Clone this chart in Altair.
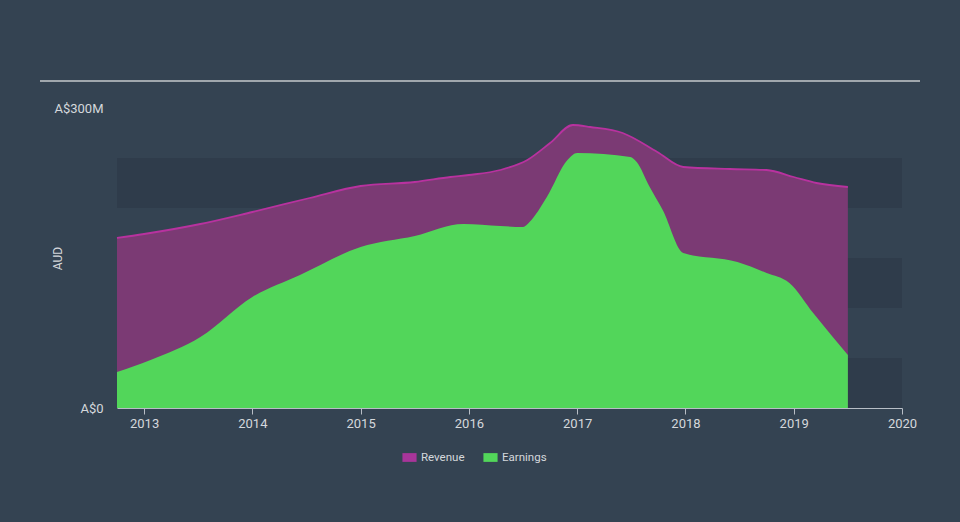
import altair as alt
import pandas as pd

rev_years = [2012.75, 2013.0, 2013.52, 2014.0, 2014.53, 2015.0, 2015.5, 2015.83, 2016.0, 2016.29,
             2016.54, 2016.75, 2016.96, 2017.12, 2017.42, 2017.74, 2017.98, 2018.41, 2018.75,
             2019.0, 2019.21, 2019.5]
rev_values = [170, 174, 184, 196, 210, 222, 226, 231, 233, 238,
              248, 265, 283, 281, 275, 256, 241, 239, 238,
              231, 225, 221]

earn_years = [2012.75, 2013.06, 2013.52, 2014.0, 2014.44, 2015.0, 2015.5, 2015.95, 2016.29, 2016.5,
              2016.56, 2016.72, 2016.91, 2017.0, 2017.49, 2017.55, 2017.67, 2017.79, 2017.98,
              2018.48, 2018.75, 2018.96, 2019.18, 2019.5]
earn_values = [36, 48, 71, 111, 133, 161, 172, 184, 182, 181,
               186, 211, 248, 255, 251, 246, 221, 198, 155,
               146, 135, 125, 95, 53]

band_lo = [0, 100, 200]
band_hi = [50, 150, 250]

year_ticks = [2013, 2014, 2015, 2016, 2017, 2018, 2019, 2020]

W, H = 785, 300

df = pd.concat([
    pd.DataFrame({"year": rev_years, "value": rev_values, "series": "Revenue"}),
    pd.DataFrame({"year": earn_years, "value": earn_values, "series": "Earnings"}),
])
bands = pd.DataFrame({"lo": band_lo, "hi": band_hi})

xscale = alt.Scale(domain=[2012.75, 2020], nice=False, zero=False)
yscale = alt.Scale(domain=[0, 300], nice=False)
cscale = alt.Scale(domain=["Revenue", "Earnings"], range=["#a8359a", "#52d65a"])

x_axis = alt.Axis(
    values=year_ticks, format="d", title=None, grid=False,
    domainColor="#b8bec6", domainWidth=1, tickColor="#b8bec6", tickSize=6,
    labelColor="#d4d8dc", labelFontSize=13, labelPadding=3, labelFlush=False)
y_axis = alt.Axis(
    values=[0, 300], labelExpr="datum.value == 0 ? 'A$0' : 'A$' + datum.value + 'M'",
    title="AUD", titleColor="#d4d8dc", titleFontSize=12, titleFontWeight="normal",
    titleX=-53, titleY=150, titleAlign="center",
    grid=False, domain=False, ticks=False, labelColor="#d4d8dc", labelFontSize=13,
    labelPadding=14)

band_layer = alt.Chart(bands).mark_rect(color="#2f3c4b").encode(
    y=alt.Y("lo:Q", scale=yscale, axis=y_axis),
    y2="hi:Q",
    x=alt.value(0),
    x2=alt.value(W),
)

base = alt.Chart(df)

color_enc = alt.Color("series:N", scale=cscale, legend=alt.Legend(
    title=None, orient="none", legendX=285, legendY=342, direction="horizontal",
    symbolType="M-1,-0.62H1V0.62H-1Z", symbolSize=200, symbolStrokeWidth=0,
    symbolOpacity=1, labelColor="#d4d8dc", labelFontSize=11.5, columnPadding=18))

rev_area = base.transform_filter(alt.datum.series == "Revenue").mark_area(
    interpolate="monotone", opacity=1).encode(
    x=alt.X("year:Q", scale=xscale, axis=x_axis),
    y=alt.Y("value:Q", scale=yscale),
    color=color_enc,
    fill=alt.value("#7b3a74"))
rev_line = base.transform_filter(alt.datum.series == "Revenue").mark_line(
    interpolate="monotone", color="#b8329f", strokeWidth=1.8).encode(
    x="year:Q", y="value:Q")
earn_area = base.transform_filter(alt.datum.series == "Earnings").mark_area(
    interpolate="monotone", fill="#52d65a", opacity=1).encode(
    x="year:Q", y="value:Q", color=color_enc)

top_rule = alt.Chart(pd.DataFrame({"a": [0]})).mark_rule(
    color="#c4c8cc", strokeWidth=1.5).encode(
    x=alt.value(-77), x2=alt.value(803), y=alt.value(-27))

chart = alt.layer(band_layer, rev_area, rev_line, earn_area, top_rule).properties(
    width=W, height=H,
    autosize=alt.AutoSizeParams(type="none"),
    padding={"left": 117, "top": 108, "right": 58, "bottom": 114},
    background="#344352",
).configure_view(stroke=None).configure_axis(labelFont="Roboto", titleFont="Roboto").configure_legend(
    labelFont="Roboto")

chart.save("out.html", embed_options={"renderer": "svg", "actions": False})
